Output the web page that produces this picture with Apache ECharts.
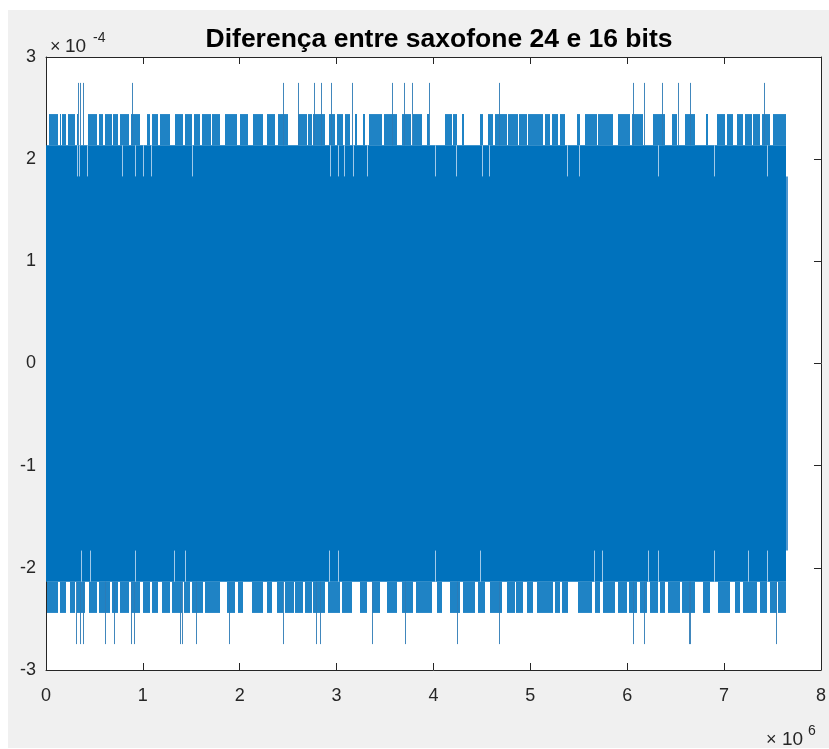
<!DOCTYPE html>
<html>
<head>
<meta charset="utf-8">
<script src="https://cdn.jsdelivr.net/npm/echarts@6/dist/echarts.min.js"></script>
<style>
  html, body { margin: 0; padding: 0; background: #ffffff; }
  #frame { position: absolute; left: 8px; top: 10px; width: 821px; height: 738px; background: #f0f0f0; }
  #chart { position: absolute; left: 0; top: 0; width: 829px; height: 749px; }
</style>
</head>
<body>
<div id="frame"></div>
<div id="chart"></div>
<script>
// Difference between the 24-bit and 16-bit saxophone recordings.
// x in units of 1e6 samples, amplitude in units of 1e-4.
// The error only takes whole 16-bit quantisation steps (2^-15).
const LSB = Math.pow(2, -15) * 1e4;

const titleText = 'Diferença entre saxofone 24 e 16 bits';
const xTicks = [0, 1, 2, 3, 4, 5, 6, 7, 8];
const yTicks = [-3, -2, -1, 0, 1, 2, 3];

// step levels reached by the signal
const bandLevel = 7;    // dense body of the error signal
const fringeLevel = 8;  // frequent excursions one step further
const peakLevel = 9;    // rare excursions
const dipLevel = 6;     // columns where the extreme stays one step lower

// extent of the signal [start, end]
const bandSpan = [0, 7.64];
// last few samples, smaller amplitude
const tailSpan = [7.64, 7.655];

// stretches where the positive side reaches fringeLevel
const topFringe = [
  [0.026,0.129],[0.146,0.153],[0.170,0.208],[0.232,0.304],[0.318,0.332],[0.432,0.525],
  [0.542,0.593],[0.611,0.680],[0.690,0.748],[0.765,0.860],[0.875,0.972],[1.041,1.075],
  [1.092,1.161],[1.178,1.281],[1.333,1.419],[1.436,1.510],[1.525,1.591],[1.608,1.700],
  [1.712,1.797],[1.849,1.969],[2.004,2.090],[2.141,2.245],[2.279,2.365],[2.399,2.503],
  [2.606,2.692],[2.709,2.743],[2.761,2.881],[2.923,2.984],[3.001,3.070],[3.085,3.139],
  [3.191,3.208],[3.277,3.294],[3.338,3.466],[3.490,3.621],[3.672,3.770],[3.785,3.878],
  [3.930,3.958],[4.120,4.188],[4.205,4.247],[4.291,4.316],[4.481,4.515],[4.567,4.618],
  [4.635,4.756],[4.773,4.870],[4.885,4.962],[4.979,5.130],[5.150,5.203],[5.220,5.289],
  [5.306,5.358],[5.478,5.513],[5.564,5.684],[5.702,5.857],[5.908,6.029],[6.045,6.166],
  [6.269,6.390],[6.458,6.510],[6.596,6.700],[6.813,6.837],[6.923,7.009],[7.026,7.095],
  [7.129,7.198],[7.216,7.284],[7.301,7.370],[7.387,7.474],[7.508,7.635]
];
// stretches where the negative side reaches -fringeLevel
const bottomFringe = [
  [0.009,0.129],[0.146,0.208],[0.249,0.301],[0.318,0.404],[0.439,0.525],[0.542,0.662],
  [0.679,0.748],[0.765,0.860],[0.875,0.972],[1.006,1.075],[1.092,1.161],[1.195,1.275],
  [1.299,1.400],[1.420,1.488],[1.505,1.618],[1.643,1.797],[1.866,1.952],[1.987,2.038],
  [2.124,2.245],[2.279,2.330],[2.382,2.451],[2.468,2.560],[2.575,2.657],[2.675,2.743],
  [2.761,2.881],[2.915,3.036],[3.053,3.156],[3.242,3.311],[3.362,3.449],[3.517,3.620],
  [3.672,3.793],[3.820,3.981],[4.033,4.085],[4.171,4.274],[4.309,4.429],[4.463,4.532],
  [4.584,4.704],[4.756,4.840],[4.855,4.928],[4.962,5.031],[5.065,5.237],[5.255,5.306],
  [5.323,5.392],[5.495,5.633],[5.668,5.719],[5.753,5.874],[5.908,6.000],[6.015,6.097],
  [6.132,6.200],[6.235,6.321],[6.338,6.390],[6.424,6.545],[6.561,6.700],[6.785,6.854],
  [6.940,7.061],[7.113,7.164],[7.191,7.336],[7.370,7.439],[7.474,7.542],[7.559,7.635]
];
// single samples reaching +/- peakLevel
const topPeaks = [0.33,0.355,0.38,0.885,2.45,2.606,2.768,2.836,2.943,3.156,3.569,3.700,
  3.775,3.958,4.680,6.063,6.177,6.355,6.524,6.651,7.408];
const bottomPeaks = [0.31,0.353,0.38,0.604,0.697,0.879,0.913,1.385,1.406,1.55,1.894,2.451,
  2.785,2.83,3.37,3.705,4.24,4.68,6.063,6.177,6.641,6.65,7.54];
// columns where the extreme stays at +/- dipLevel
const topDips = [0.318,0.339,0.425,0.789,0.920,1.006,1.082,1.505,2.936,3.011,3.077,3.173,
  3.311,4.016,4.235,4.497,4.575,5.382,5.506,6.321,6.896,7.446];
const bottomDips = [0.363,0.456,0.920,1.326,1.437,2.926,3.016,4.018,4.477,5.655,5.736,
  6.214,6.322,6.894,7.245,7.447];

const BLUE = '#0072bd';
const FONT = '"Liberation Sans", Arial, Helvetica, sans-serif';
const INK = '#262626';

// rows of [x0, x1, yLow, yHigh]
const bandRows = [[bandSpan[0], bandSpan[1], -bandLevel * LSB, bandLevel * LSB]];
const tailRows = [[tailSpan[0], tailSpan[1], -dipLevel * LSB, dipLevel * LSB]];
const fringeRows = topFringe.map(s => [s[0], s[1], bandLevel * LSB, fringeLevel * LSB])
  .concat(bottomFringe.map(s => [s[0], s[1], -fringeLevel * LSB, -bandLevel * LSB]));
// rows of [x, yFrom, yTo]
const peakRows = topPeaks.map(x => [x, bandLevel * LSB, peakLevel * LSB])
  .concat(bottomPeaks.map(x => [x, -peakLevel * LSB, -bandLevel * LSB]));
const dipRows = topDips.map(x => [x, dipLevel * LSB, bandLevel * LSB])
  .concat(bottomDips.map(x => [x, -bandLevel * LSB, -dipLevel * LSB]));

function spanRenderer(fill, opacity) {
  return function (params, api) {
    const a = api.coord([api.value(0), api.value(3)]);
    const b = api.coord([api.value(1), api.value(2)]);
    const x0 = Math.round(a[0]);
    const w = Math.max(1, Math.round(b[0]) - x0);
    return {
      type: 'rect',
      shape: { x: x0, y: a[1], width: w, height: b[1] - a[1] },
      style: { fill: fill, opacity: opacity }
    };
  };
}
function stickRenderer(stroke, opacity) {
  return function (params, api) {
    const a = api.coord([api.value(0), api.value(1)]);
    const b = api.coord([api.value(0), api.value(2)]);
    const x = Math.round(a[0]) + 0.5;
    return {
      type: 'line',
      shape: { x1: x, y1: a[1], x2: x, y2: b[1] },
      style: { stroke: stroke, lineWidth: 1, opacity: opacity }
    };
  };
}

const chart = echarts.init(document.getElementById('chart'), null, { renderer: 'canvas' });

const axisLine = { show: true, onZero: false, lineStyle: { color: INK, width: 1 } };
const tick = { show: true, inside: true, length: 7, lineStyle: { color: INK, width: 1 } };
const tickLabel = { color: INK, fontSize: 18, fontFamily: FONT };

function txt(x, y, s, size) {
  return { type: 'text', x: x, y: y, z: 10,
    style: { text: s, fill: INK, font: size + 'px ' + FONT, verticalAlign: 'bottom' } };
}

chart.setOption({
  animation: false,
  title: {
    text: titleText,
    left: 434,
    top: 21,
    textAlign: 'center',
    textStyle: { fontSize: 26.5, fontWeight: 'bold', color: '#000', fontFamily: FONT }
  },
  grid: {
    left: 46, right: 6, top: 57, bottom: 79,
    show: true, backgroundColor: '#ffffff', borderWidth: 0
  },
  xAxis: [
    {
      type: 'value', min: xTicks[0], max: xTicks[xTicks.length - 1], interval: 1,
      axisLine: axisLine, axisTick: tick, splitLine: { show: false },
      axisLabel: Object.assign({ margin: 17, formatter: v => String(v) }, tickLabel)
    },
    {
      type: 'value', position: 'top', min: xTicks[0], max: xTicks[xTicks.length - 1], interval: 1,
      axisLine: axisLine, axisTick: tick, splitLine: { show: false }, axisLabel: { show: false }
    }
  ],
  yAxis: [
    {
      type: 'value', min: yTicks[0], max: yTicks[yTicks.length - 1], interval: 1,
      axisLine: axisLine, axisTick: tick, splitLine: { show: false },
      axisLabel: Object.assign({ margin: 10, formatter: v => String(v) }, tickLabel)
    },
    {
      type: 'value', position: 'right', min: yTicks[0], max: yTicks[yTicks.length - 1], interval: 1,
      axisLine: axisLine, axisTick: tick, splitLine: { show: false }, axisLabel: { show: false }
    }
  ],
  graphic: [
    txt(50, 56, '×', 18), txt(65, 56, '10', 19), txt(93, 45, '-4', 14),
    txt(766, 749, '×', 18), txt(782, 749, '10', 19), txt(808, 738, '6', 14)
  ],
  series: [
    { type: 'custom', silent: true, clip: true, encode: { x: [0, 1], y: [2, 3] },
      renderItem: spanRenderer(BLUE, 1), data: bandRows, z: 2 },
    { type: 'custom', silent: true, clip: true, encode: { x: [0, 1], y: [2, 3] },
      renderItem: spanRenderer('#4f97cf', 1), data: tailRows, z: 2 },
    { type: 'custom', silent: true, clip: true, encode: { x: [0, 1], y: [2, 3] },
      renderItem: spanRenderer(BLUE, 0.88), data: fringeRows, z: 3 },
    { type: 'custom', silent: true, clip: true, encode: { x: 0, y: [1, 2] },
      renderItem: stickRenderer('#2c7ab5', 0.9), data: peakRows, z: 4 },
    { type: 'custom', silent: true, clip: true, encode: { x: 0, y: [1, 2] },
      renderItem: stickRenderer('#a9cdeb', 0.95), data: dipRows, z: 5 }
  ]
});
</script>
</body>
</html>
